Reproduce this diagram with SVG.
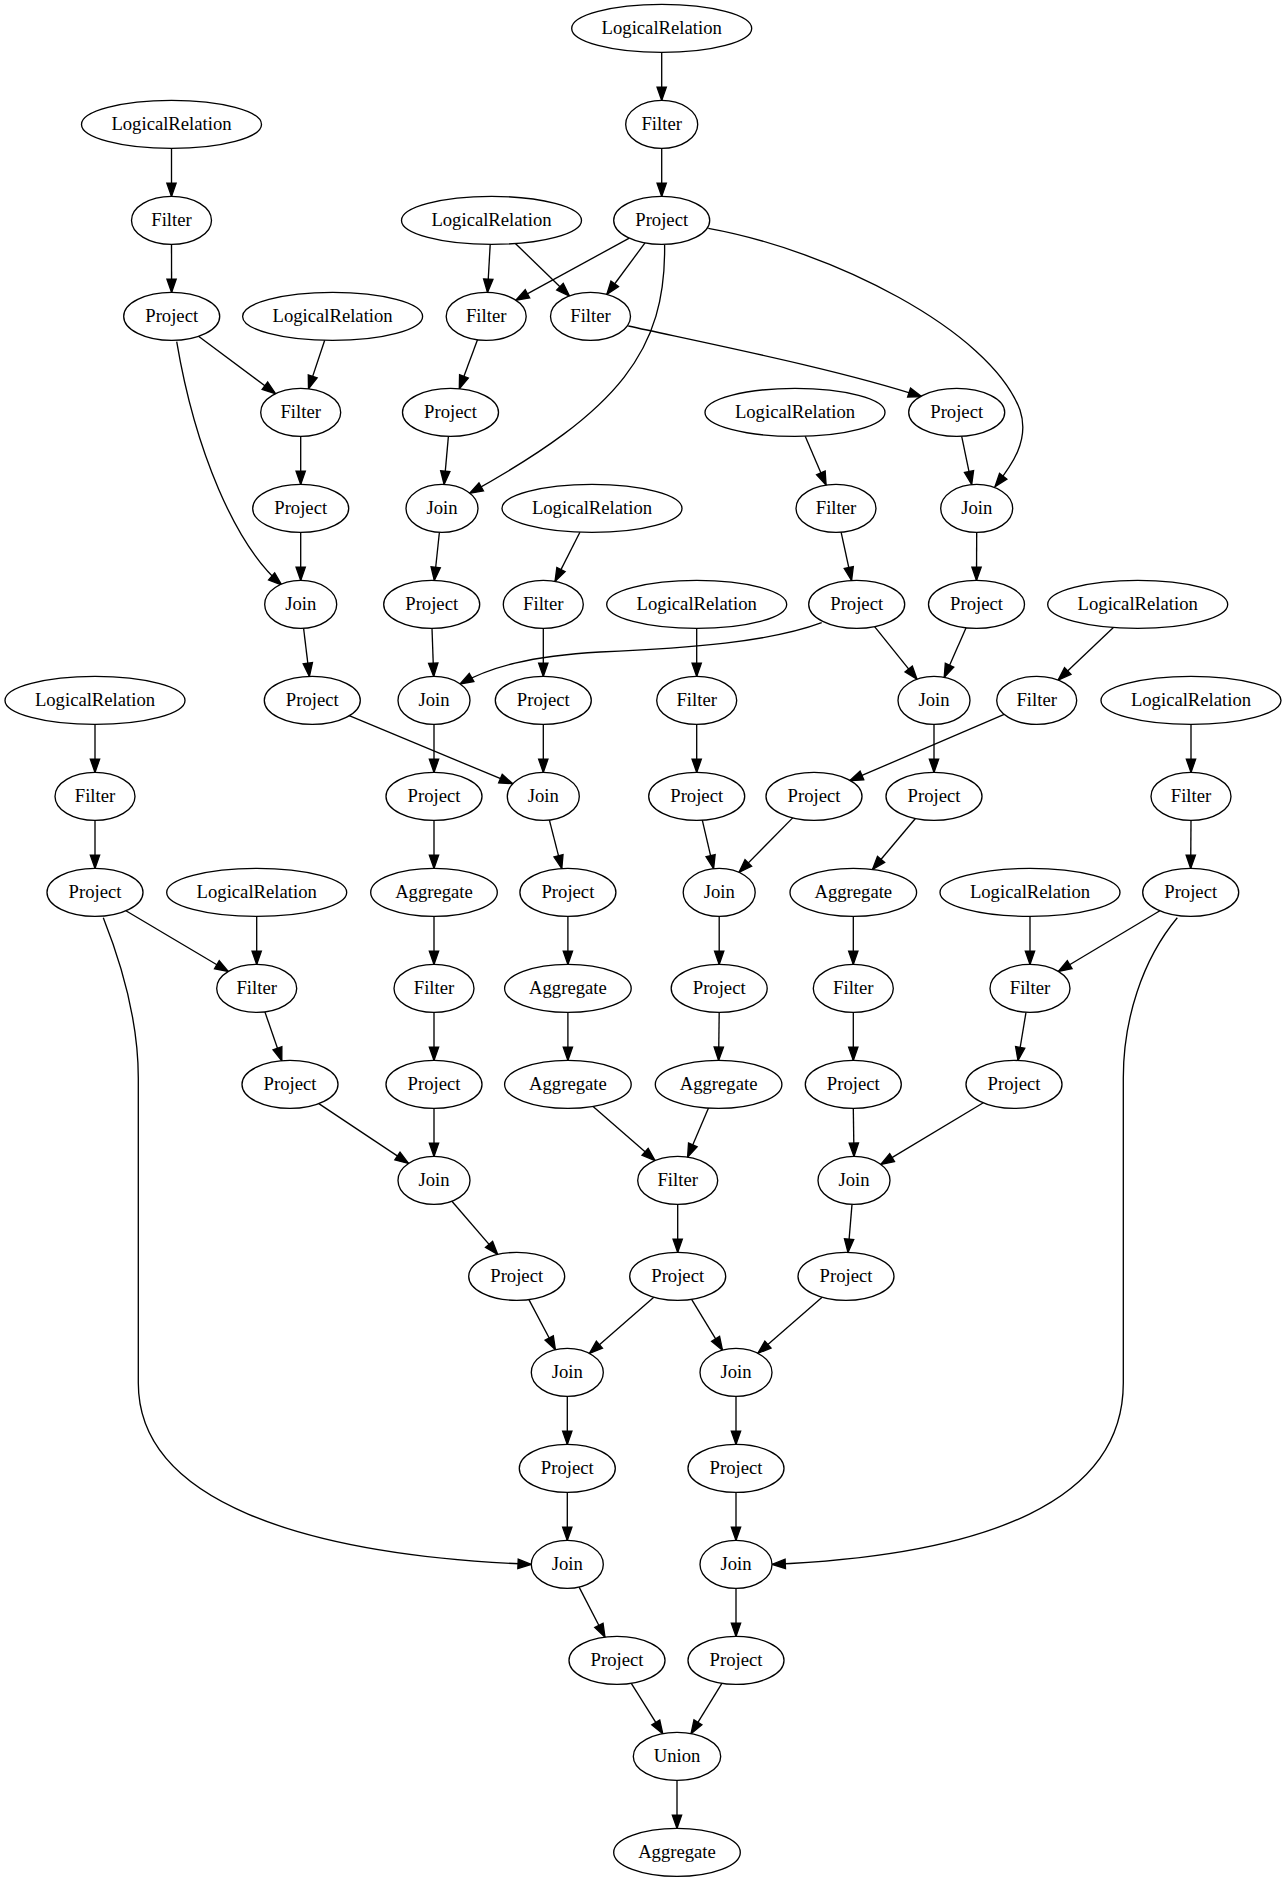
<svg xmlns="http://www.w3.org/2000/svg" width="1287" height="1883" viewBox="0 0 1287 1883">
<style>
  .node ellipse { fill: #ffffff; stroke: #000000; stroke-width: 1.33; }
  .node text { font-family: "Liberation Serif", "Times New Roman", serif; font-size: 18.67px; text-anchor: middle; fill: #000000; }
  .edges path { fill: none; stroke: #000000; stroke-width: 1.33; marker-end: url(#arrow); }
</style>
<defs>
  <marker id="arrow" markerUnits="userSpaceOnUse" markerWidth="16" markerHeight="12" refX="13.3" refY="4.67" orient="auto" overflow="visible">
    <path d="M0,0 L13.3,4.67 L0,9.33 Z" fill="#000000" stroke="#000000" stroke-width="1.33"/>
  </marker>
</defs>
<rect width="1287" height="1883" fill="#ffffff"/>

<g id="connectors" class="edges">
  <path d="M661.7,52.4 L661.7,100.4"/>
  <path d="M661.7,148.4 L661.7,196.4"/>
  <path d="M171.5,148.4 L171.5,196.4"/>
  <path d="M171.5,244.4 L171.6,292.4"/>
  <path d="M198.5,336.3 L275.6,393.7"/>
  <path d="M176.7,341.7 C195,450 235,545 281.7,585"/>
  <path d="M324.7,340.3 L308.5,388.9"/>
  <path d="M300.7,436.4 L300.7,484.4"/>
  <path d="M300.7,532.4 L300.7,580.4"/>
  <path d="M303.6,628.3 L309.4,676.4"/>
  <path d="M349.2,715.7 L512.7,783.7"/>
  <path d="M490.2,244.4 L487.5,292.4"/>
  <path d="M515.4,243.5 L569.5,296"/>
  <path d="M629.3,238.1 L515.8,300.2"/>
  <path d="M645,242.9 L606.8,294.5"/>
  <path d="M664.6,245 C666,350 620,410 469.6,493.3"/>
  <path d="M708.3,228.3 C830,250 990,330 1020,410 C1030,440 1012,465 995,486.7"/>
  <path d="M477.5,339.8 L459.3,388.8"/>
  <path d="M448.4,436.4 L444.1,484.4"/>
  <path d="M628.3,326 C720,346 840,370 921.7,396.7"/>
  <path d="M961.7,436.3 L971.7,484.6"/>
  <path d="M805.2,436.2 L826.1,485.1"/>
  <path d="M439.4,532.3 L434.3,580.5"/>
  <path d="M579.9,532.2 L555,581.4"/>
  <path d="M841.1,532.2 L851.6,580.5"/>
  <path d="M976.7,532.4 L976.5,580.4"/>
  <path d="M432,628.4 L433.7,676.4"/>
  <path d="M543.3,628.4 L543.3,676.4"/>
  <path d="M821.7,622.7 C770,642 690,648 600,652 C530,656 490,667 460,684"/>
  <path d="M874.6,626.7 L917,679.3"/>
  <path d="M966.1,627.8 L944.2,677.4"/>
  <path d="M696.7,628.4 L696.7,676.4"/>
  <path d="M1113.4,627.5 L1058.1,680.1"/>
  <path d="M95,724.4 L95,772.4"/>
  <path d="M434,724.4 L434,772.4"/>
  <path d="M543.3,724.4 L543.3,772.4"/>
  <path d="M696.7,724.4 L696.7,772.4"/>
  <path d="M934,724.4 L934,772.4"/>
  <path d="M1004.2,714.4 L849.7,780.7"/>
  <path d="M1191,724.4 L1191,772.4"/>
  <path d="M95,820.4 L95,868.4"/>
  <path d="M434,820.4 L434,868.4"/>
  <path d="M549.4,820.1 L561.8,868.6"/>
  <path d="M702.3,820.2 L713.6,868.7"/>
  <path d="M792.7,817.9 L739,872.4"/>
  <path d="M915.4,818.5 L872.5,869.5"/>
  <path d="M1191,820.4 L1190.7,868.4"/>
  <path d="M125.9,910.8 L228.3,971.5"/>
  <path d="M103.3,917.8 C120,960 138.3,1020 138.3,1078 L138.3,1383 C138.3,1500 300,1555 531.3,1564.4"/>
  <path d="M256.7,916.4 L256.7,964.4"/>
  <path d="M434,916.4 L434,964.4"/>
  <path d="M567.9,916.4 L567.9,964.4"/>
  <path d="M719.2,916.4 L719.2,964.4"/>
  <path d="M853.3,916.4 L853.3,964.4"/>
  <path d="M1030,916.4 L1030,964.4"/>
  <path d="M1159.9,910.8 L1058.3,971.5"/>
  <path d="M1177.3,917.8 C1142,960 1123.3,1020 1123.3,1078 L1123.3,1383 C1123.3,1500 990,1555 772,1564.4"/>
  <path d="M264.9,1011.9 L281.8,1060.8"/>
  <path d="M434,1012.4 L434,1060.4"/>
  <path d="M567.9,1012.4 L567.9,1060.4"/>
  <path d="M719.2,1012.4 L718.6,1060.4"/>
  <path d="M853.3,1012.4 L853.3,1060.4"/>
  <path d="M1026,1012.3 L1018,1060.5"/>
  <path d="M318.8,1103.6 L408.5,1163.4"/>
  <path d="M434,1108.4 L434,1156.4"/>
  <path d="M593.1,1106.4 L655.1,1160.6"/>
  <path d="M708.5,1108.1 L687.6,1157.1"/>
  <path d="M853.3,1108.4 L854,1156.4"/>
  <path d="M983.3,1102.8 L880.7,1164.4"/>
  <path d="M451.9,1201.2 L497.7,1254.4"/>
  <path d="M677.7,1204.4 L677.7,1252.4"/>
  <path d="M852,1204.4 L848,1252.4"/>
  <path d="M528.9,1299.6 L555.4,1349.8"/>
  <path d="M653.8,1297.2 L589.4,1353.4"/>
  <path d="M691.6,1299.4 L722.5,1350.2"/>
  <path d="M822.1,1297.2 L757.9,1353.3"/>
  <path d="M567.3,1396.4 L567.3,1444.4"/>
  <path d="M736,1396.4 L736,1444.4"/>
  <path d="M567.3,1492.4 L567.3,1540.4"/>
  <path d="M736,1492.4 L736,1540.4"/>
  <path d="M579.1,1587.1 L605,1637.2"/>
  <path d="M736,1588.4 L736,1636.4"/>
  <path d="M631.3,1683.3 L662.8,1733.7"/>
  <path d="M721.9,1683.3 L691,1733.7"/>
  <path d="M677,1780.4 L677,1828.4"/>
</g>

<g id="n0" class="node"><ellipse cx="661.7" cy="28.4" rx="90" ry="24"/><text x="661.7" y="34">LogicalRelation</text></g>
<g id="n1" class="node"><ellipse cx="661.7" cy="124.4" rx="36" ry="24"/><text x="661.7" y="130">Filter</text></g>
<g id="n2" class="node"><ellipse cx="171.5" cy="124.4" rx="90" ry="24"/><text x="171.5" y="130">LogicalRelation</text></g>
<g id="n3" class="node"><ellipse cx="171.5" cy="220.4" rx="40" ry="24"/><text x="171.5" y="226">Filter</text></g>
<g id="n4" class="node"><ellipse cx="491.5" cy="220.4" rx="90" ry="24"/><text x="491.5" y="226">LogicalRelation</text></g>
<g id="n5" class="node"><ellipse cx="661.7" cy="220.4" rx="48" ry="24"/><text x="661.7" y="226">Project</text></g>
<g id="n6" class="node"><ellipse cx="171.7" cy="316.4" rx="48" ry="24"/><text x="171.7" y="322">Project</text></g>
<g id="n7" class="node"><ellipse cx="332.6" cy="316.4" rx="90" ry="24"/><text x="332.6" y="322">LogicalRelation</text></g>
<g id="n8" class="node"><ellipse cx="486.2" cy="316.4" rx="40" ry="24"/><text x="486.2" y="322">Filter</text></g>
<g id="n9" class="node"><ellipse cx="590.5" cy="316.4" rx="40" ry="24"/><text x="590.5" y="322">Filter</text></g>
<g id="n10" class="node"><ellipse cx="300.7" cy="412.4" rx="40" ry="24"/><text x="300.7" y="418">Filter</text></g>
<g id="n11" class="node"><ellipse cx="450.5" cy="412.4" rx="48" ry="24"/><text x="450.5" y="418">Project</text></g>
<g id="n12" class="node"><ellipse cx="795" cy="412.4" rx="90" ry="24"/><text x="795" y="418">LogicalRelation</text></g>
<g id="n13" class="node"><ellipse cx="956.7" cy="412.4" rx="48" ry="24"/><text x="956.7" y="418">Project</text></g>
<g id="n14" class="node"><ellipse cx="300.7" cy="508.4" rx="48" ry="24"/><text x="300.7" y="514">Project</text></g>
<g id="n15" class="node"><ellipse cx="442" cy="508.4" rx="36" ry="24"/><text x="442" y="514">Join</text></g>
<g id="n16" class="node"><ellipse cx="592" cy="508.4" rx="90" ry="24"/><text x="592" y="514">LogicalRelation</text></g>
<g id="n17" class="node"><ellipse cx="836" cy="508.4" rx="40" ry="24"/><text x="836" y="514">Filter</text></g>
<g id="n18" class="node"><ellipse cx="976.7" cy="508.4" rx="36" ry="24"/><text x="976.7" y="514">Join</text></g>
<g id="n19" class="node"><ellipse cx="300.7" cy="604.4" rx="36" ry="24"/><text x="300.7" y="610">Join</text></g>
<g id="n20" class="node"><ellipse cx="431.7" cy="604.4" rx="48" ry="24"/><text x="431.7" y="610">Project</text></g>
<g id="n21" class="node"><ellipse cx="543.3" cy="604.4" rx="40" ry="24"/><text x="543.3" y="610">Filter</text></g>
<g id="n22" class="node"><ellipse cx="696.7" cy="604.4" rx="90" ry="24"/><text x="696.7" y="610">LogicalRelation</text></g>
<g id="n23" class="node"><ellipse cx="856.7" cy="604.4" rx="48" ry="24"/><text x="856.7" y="610">Project</text></g>
<g id="n24" class="node"><ellipse cx="976.5" cy="604.4" rx="48" ry="24"/><text x="976.5" y="610">Project</text></g>
<g id="n25" class="node"><ellipse cx="1137.7" cy="604.4" rx="90" ry="24"/><text x="1137.7" y="610">LogicalRelation</text></g>
<g id="n26" class="node"><ellipse cx="95" cy="700.4" rx="90" ry="24"/><text x="95" y="706">LogicalRelation</text></g>
<g id="n27" class="node"><ellipse cx="312.3" cy="700.4" rx="48" ry="24"/><text x="312.3" y="706">Project</text></g>
<g id="n28" class="node"><ellipse cx="434" cy="700.4" rx="36" ry="24"/><text x="434" y="706">Join</text></g>
<g id="n29" class="node"><ellipse cx="543.3" cy="700.4" rx="48" ry="24"/><text x="543.3" y="706">Project</text></g>
<g id="n30" class="node"><ellipse cx="696.7" cy="700.4" rx="40" ry="24"/><text x="696.7" y="706">Filter</text></g>
<g id="n31" class="node"><ellipse cx="934" cy="700.4" rx="36" ry="24"/><text x="934" y="706">Join</text></g>
<g id="n32" class="node"><ellipse cx="1036.7" cy="700.4" rx="40" ry="24"/><text x="1036.7" y="706">Filter</text></g>
<g id="n33" class="node"><ellipse cx="1191" cy="700.4" rx="90" ry="24"/><text x="1191" y="706">LogicalRelation</text></g>
<g id="n34" class="node"><ellipse cx="95" cy="796.4" rx="40" ry="24"/><text x="95" y="802">Filter</text></g>
<g id="n35" class="node"><ellipse cx="434" cy="796.4" rx="48" ry="24"/><text x="434" y="802">Project</text></g>
<g id="n36" class="node"><ellipse cx="543.3" cy="796.4" rx="36" ry="24"/><text x="543.3" y="802">Join</text></g>
<g id="n37" class="node"><ellipse cx="696.7" cy="796.4" rx="48" ry="24"/><text x="696.7" y="802">Project</text></g>
<g id="n38" class="node"><ellipse cx="814" cy="796.4" rx="48" ry="24"/><text x="814" y="802">Project</text></g>
<g id="n39" class="node"><ellipse cx="934" cy="796.4" rx="48" ry="24"/><text x="934" y="802">Project</text></g>
<g id="n40" class="node"><ellipse cx="1191" cy="796.4" rx="40" ry="24"/><text x="1191" y="802">Filter</text></g>
<g id="n41" class="node"><ellipse cx="95" cy="892.4" rx="48" ry="24"/><text x="95" y="898">Project</text></g>
<g id="n42" class="node"><ellipse cx="256.7" cy="892.4" rx="90" ry="24"/><text x="256.7" y="898">LogicalRelation</text></g>
<g id="n43" class="node"><ellipse cx="434" cy="892.4" rx="63.3" ry="24"/><text x="434" y="898">Aggregate</text></g>
<g id="n44" class="node"><ellipse cx="567.9" cy="892.4" rx="48" ry="24"/><text x="567.9" y="898">Project</text></g>
<g id="n45" class="node"><ellipse cx="719.2" cy="892.4" rx="36" ry="24"/><text x="719.2" y="898">Join</text></g>
<g id="n46" class="node"><ellipse cx="853.3" cy="892.4" rx="63.3" ry="24"/><text x="853.3" y="898">Aggregate</text></g>
<g id="n47" class="node"><ellipse cx="1030" cy="892.4" rx="90" ry="24"/><text x="1030" y="898">LogicalRelation</text></g>
<g id="n48" class="node"><ellipse cx="1190.7" cy="892.4" rx="48" ry="24"/><text x="1190.7" y="898">Project</text></g>
<g id="n49" class="node"><ellipse cx="256.7" cy="988.4" rx="40" ry="24"/><text x="256.7" y="994">Filter</text></g>
<g id="n50" class="node"><ellipse cx="434" cy="988.4" rx="40" ry="24"/><text x="434" y="994">Filter</text></g>
<g id="n51" class="node"><ellipse cx="567.9" cy="988.4" rx="63.3" ry="24"/><text x="567.9" y="994">Aggregate</text></g>
<g id="n52" class="node"><ellipse cx="719.2" cy="988.4" rx="48" ry="24"/><text x="719.2" y="994">Project</text></g>
<g id="n53" class="node"><ellipse cx="853.3" cy="988.4" rx="40" ry="24"/><text x="853.3" y="994">Filter</text></g>
<g id="n54" class="node"><ellipse cx="1030" cy="988.4" rx="40" ry="24"/><text x="1030" y="994">Filter</text></g>
<g id="n55" class="node"><ellipse cx="290" cy="1084.4" rx="48" ry="24"/><text x="290" y="1090">Project</text></g>
<g id="n56" class="node"><ellipse cx="434" cy="1084.4" rx="48" ry="24"/><text x="434" y="1090">Project</text></g>
<g id="n57" class="node"><ellipse cx="567.9" cy="1084.4" rx="63.3" ry="24"/><text x="567.9" y="1090">Aggregate</text></g>
<g id="n58" class="node"><ellipse cx="718.6" cy="1084.4" rx="63.3" ry="24"/><text x="718.6" y="1090">Aggregate</text></g>
<g id="n59" class="node"><ellipse cx="853.3" cy="1084.4" rx="48" ry="24"/><text x="853.3" y="1090">Project</text></g>
<g id="n60" class="node"><ellipse cx="1014" cy="1084.4" rx="48" ry="24"/><text x="1014" y="1090">Project</text></g>
<g id="n61" class="node"><ellipse cx="434" cy="1180.4" rx="36" ry="24"/><text x="434" y="1186">Join</text></g>
<g id="n62" class="node"><ellipse cx="677.7" cy="1180.4" rx="40" ry="24"/><text x="677.7" y="1186">Filter</text></g>
<g id="n63" class="node"><ellipse cx="854" cy="1180.4" rx="36" ry="24"/><text x="854" y="1186">Join</text></g>
<g id="n64" class="node"><ellipse cx="516.7" cy="1276.4" rx="48" ry="24"/><text x="516.7" y="1282">Project</text></g>
<g id="n65" class="node"><ellipse cx="677.7" cy="1276.4" rx="48" ry="24"/><text x="677.7" y="1282">Project</text></g>
<g id="n66" class="node"><ellipse cx="846" cy="1276.4" rx="48" ry="24"/><text x="846" y="1282">Project</text></g>
<g id="n67" class="node"><ellipse cx="567.3" cy="1372.4" rx="36" ry="24"/><text x="567.3" y="1378">Join</text></g>
<g id="n68" class="node"><ellipse cx="736" cy="1372.4" rx="36" ry="24"/><text x="736" y="1378">Join</text></g>
<g id="n69" class="node"><ellipse cx="567.3" cy="1468.4" rx="48" ry="24"/><text x="567.3" y="1474">Project</text></g>
<g id="n70" class="node"><ellipse cx="736" cy="1468.4" rx="48" ry="24"/><text x="736" y="1474">Project</text></g>
<g id="n71" class="node"><ellipse cx="567.3" cy="1564.4" rx="36" ry="24"/><text x="567.3" y="1570">Join</text></g>
<g id="n72" class="node"><ellipse cx="736" cy="1564.4" rx="36" ry="24"/><text x="736" y="1570">Join</text></g>
<g id="n73" class="node"><ellipse cx="617" cy="1660.4" rx="48" ry="24"/><text x="617" y="1666">Project</text></g>
<g id="n74" class="node"><ellipse cx="736" cy="1660.4" rx="48" ry="24"/><text x="736" y="1666">Project</text></g>
<g id="n75" class="node"><ellipse cx="677" cy="1756.4" rx="43.7" ry="24"/><text x="677" y="1762">Union</text></g>
<g id="n76" class="node"><ellipse cx="677" cy="1852.4" rx="63.3" ry="24"/><text x="677" y="1858">Aggregate</text></g>
</svg>
